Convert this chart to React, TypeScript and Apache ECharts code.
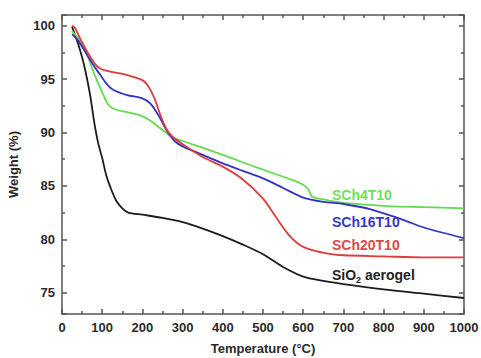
import React, { useEffect, useRef } from "react";
import * as echarts from "echarts";

// Temperature (°C) / Weight (%)
const sioT = [25, 40, 55, 70, 80, 90, 100, 110, 120, 135, 150, 165, 200, 250, 300, 350, 400, 450, 500, 550, 600, 650, 700, 800, 900, 1000];
const sioW = [99.9, 98.3, 96.3, 93.5, 91.0, 89.0, 87.6, 86.0, 84.9, 83.6, 82.9, 82.5, 82.3, 82.0, 81.6, 81.0, 80.3, 79.5, 78.6, 77.4, 76.5, 76.1, 75.8, 75.3, 74.9, 74.5];

const s20T = [25, 32, 45, 62, 75, 87, 100, 120, 160, 200, 215, 230, 245, 260, 275, 300, 350, 400, 450, 500, 530, 560, 590, 620, 670, 700, 800, 900, 1000];
const s20W = [100, 99.8, 98.8, 97.6, 96.8, 96.2, 95.9, 95.7, 95.4, 94.9, 94.3, 93.2, 91.6, 90.3, 89.6, 88.9, 87.7, 86.8, 85.6, 83.8, 82.2, 80.6, 79.5, 79.0, 78.6, 78.5, 78.4, 78.3, 78.3];

const s16T = [25, 40, 62, 80, 95, 110, 127, 162, 200, 220, 240, 260, 280, 300, 344, 400, 450, 500, 550, 600, 650, 700, 768, 850, 900, 1000];
const s16W = [99.2, 98.6, 97.3, 96.2, 95.4, 94.6, 94.0, 93.5, 93.2, 92.7, 91.6, 90.2, 89.2, 88.7, 88.0, 87.1, 86.4, 85.7, 84.8, 83.9, 83.5, 83.3, 82.8, 81.8, 81.1, 80.1];

const s4T = [25, 40, 62, 80, 90, 102, 115, 130, 162, 195, 220, 244, 277, 300, 400, 486, 569, 600, 612, 622, 640, 668, 700, 810, 900, 1000];
const s4W = [99.5, 98.8, 97.3, 95.5, 94.6, 93.6, 92.6, 92.2, 91.9, 91.6, 91.1, 90.4, 89.5, 89.2, 87.9, 86.7, 85.6, 85.1, 84.7, 84.0, 83.8, 83.6, 83.4, 83.1, 83.0, 82.9];

const seriesNames = ["SiO2 aerogel", "SCh4T10", "SCh16T10", "SCh20T10"];
const seriesColors = ["#1c1c1c", "#62dc4e", "#3434c4", "#e03c3c"];

const pairs = (t: number[], w: number[]) => t.map((x, i) => [x, w[i]]);

const FONT = "Liberation Sans, Arial, sans-serif";
const AXIS_COLOR = "#555";

export default function App() {
  const ref = useRef<HTMLDivElement>(null);
  useEffect(() => {
    if (!ref.current) return;
    const chart = echarts.init(ref.current, undefined, { renderer: "svg" });
    const lineAxisCommon = {
      axisLine: { show: true, onZero: false, lineStyle: { color: AXIS_COLOR, width: 1.5 } },
      axisTick: { show: true, inside: true, length: 5, lineStyle: { color: AXIS_COLOR, width: 1.5 } },
      minorTick: { show: true, splitNumber: 2, length: 3, lineStyle: { color: AXIS_COLOR, width: 1.5 } },
      splitLine: { show: false },
      minorSplitLine: { show: false },
    };
    const labelStyle = { color: "#2a2a2a", fontFamily: FONT, fontWeight: "bold" as const, fontSize: 13 };
    const data = [pairs(sioT, sioW), pairs(s4T, s4W), pairs(s16T, s16W), pairs(s20T, s20W)];
    chart.setOption({
      animation: false,
      backgroundColor: "#fff",
      grid: { left: 62, right: 17, top: 15, bottom: 44, containLabel: false, outerBoundsMode: "none" },
      xAxis: [
        {
          type: "value", min: 0, max: 1000, interval: 100, position: "bottom",
          ...lineAxisCommon,
          axisLabel: { ...labelStyle, margin: 7, formatter: (v: number) => String(v) },
          name: "Temperature (°C)", nameLocation: "middle", nameGap: 28,
          nameTextStyle: { ...labelStyle },
        },
        {
          type: "value", min: 0, max: 1000, interval: 100, position: "top",
          ...lineAxisCommon,
          axisLabel: { show: false },
        },
      ],
      yAxis: [
        {
          type: "value", min: 73, max: 101, splitNumber: 5, position: "left",
          ...lineAxisCommon,
          axisLabel: { ...labelStyle, margin: 7, showMinLabel: false, showMaxLabel: false },
          name: "Weight (%)", nameLocation: "middle", nameGap: 42,
          nameTextStyle: { ...labelStyle },
        },
        {
          type: "value", min: 73, max: 101, splitNumber: 5, position: "right",
          ...lineAxisCommon,
          axisLabel: { show: false },
        },
      ],
      series: data.map((d, i) => ({
        name: seriesNames[i],
        type: "line",
        data: d,
        xAxisIndex: 0,
        yAxisIndex: 0,
        smooth: 0.3,
        showSymbol: false,
        lineStyle: { color: seriesColors[i], width: 1.8 },
      })),
      graphic: [
        { type: "text", left: 332, top: 188, style: { text: "SCh4T10", fill: "#6ee05a", font: `bold 14px ${FONT}` } },
        { type: "text", left: 332, top: 215, style: { text: "SCh16T10", fill: "#3838c8", font: `bold 14px ${FONT}` } },
        { type: "text", left: 332, top: 238, style: { text: "SCh20T10", fill: "#e04848", font: `bold 14px ${FONT}` } },
        {
          type: "text", left: 332, top: 268,
          style: {
            text: "{a|SiO}{s|2}{a| aerogel}",
            rich: {
              a: { fill: "#222", font: `bold 14px ${FONT}` },
              s: { fill: "#222", font: `bold 9px ${FONT}`, padding: [10, 0, 0, 0] },
            },
          },
        },
      ],
    });
    return () => chart.dispose();
  }, []);
  return (
    <div
      ref={ref}
      style={{ position: "absolute", left: 0, top: 0, width: 481, height: 358 }}
    />
  );
}
